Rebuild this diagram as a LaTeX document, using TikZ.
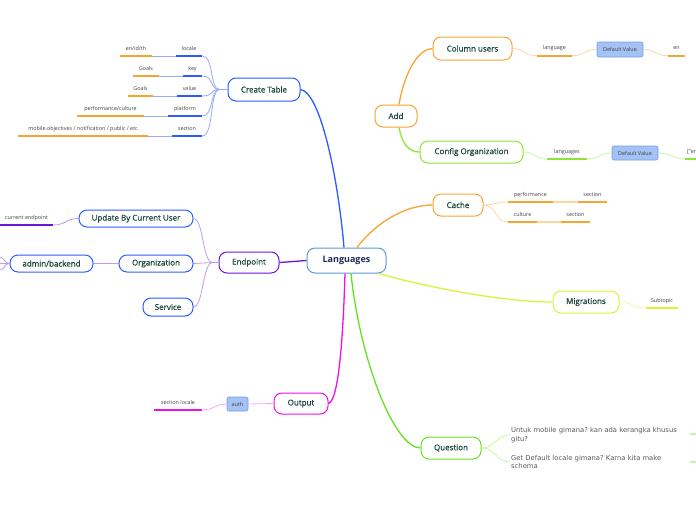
\documentclass[tikz,border=0pt]{standalone}
\usepackage{fontspec}
\setmainfont{Open Sans}
\newfontfamily\topicfam[FakeBold=0.5]{Open Sans}
\newfontfamily\notefont{DejaVu Sans}
\usepackage{tikz}
\frenchspacing
\definecolor{ct-blue}{HTML}{2B5CFF}
\definecolor{ct-light}{HTML}{93AAFF}
\definecolor{ep-purple}{HTML}{6E14DA}
\definecolor{ep-light}{HTML}{BC9AF3}
\definecolor{out-mag}{HTML}{EE11EE}
\definecolor{out-light}{HTML}{F6A6F6}
\definecolor{add-orange}{HTML}{F7A531}
\definecolor{add-light}{HTML}{FCD7A2}
\definecolor{cfg-green}{HTML}{8DE43A}
\definecolor{cfg-light}{HTML}{C9F4A4}
\definecolor{q-green}{HTML}{66E022}
\definecolor{mig-yellow}{HTML}{D6F53A}
\definecolor{mig-light}{HTML}{ECFAA8}
\definecolor{root-blue}{HTML}{5B9BD5}
\definecolor{root-text}{HTML}{1C2B55}
\definecolor{topic-text}{HTML}{1B463A}
\definecolor{leaf-text}{HTML}{404040}
\definecolor{note-text}{HTML}{5A5A5A}
\definecolor{val-fill}{HTML}{A4C2F4}
\definecolor{val-draw}{HTML}{6D9EEB}
\newcommand*\topicfont{\topicfam\fontsize{8}{9.5}\selectfont}
\newcommand*\leaffont{\fontsize{5.4}{6.5}\selectfont}
\newcommand*\ulbar[2]{\draw[bar=#1] (#2.south west) -- (#2.south east);}
\begin{document}
\begin{tikzpicture}[x=1pt,y=-1pt,
		topic/.style={draw=#1,line width=1pt,rounded corners=8pt,fill=white,inner sep=0pt,text=topic-text,font=\topicfont},
		leaf/.style={inner sep=0pt,anchor=south,minimum height=14pt,text=leaf-text,font=\leaffont},
		valbox/.style={draw=val-draw,fill=val-fill,rounded corners=2pt,inner sep=0pt,line width=0.6pt,text=leaf-text,font=\leaffont},
		note/.style={anchor=west,align=left,inner sep=1pt,text=note-text,font=\notefont\fontsize{6.8}{8.8}\selectfont},
		bar/.style={line width=1.6pt,#1},
		link/.style={line width=0.8pt,#1},
		branch/.style={line width=1.3pt,#1}]
	\useasboundingbox (0,0) rectangle (696,520);
	\node[topic=root-blue,minimum width=79pt,minimum height=25pt,text=root-text,font=\fontsize{9}{11}\selectfont\bfseries] (lang) at (346.5,260.5) {Languages};
	\node[topic=ct-blue,minimum width=72pt,minimum height=23pt] (ct) at (264,89.5) {Create Table};
	\node[leaf,minimum width=26pt] (ct-locale) at (189,56) {locale};
	\node[leaf,minimum width=32pt] (ct-locale-v) at (136,56) {en/id/th};
	\node[leaf,minimum width=19pt] (ct-key) at (192.5,76) {key};
	\node[leaf,minimum width=26pt] (ct-key-v) at (146,76) {Goals};
	\node[leaf,minimum width=25pt] (ct-value) at (189.5,96) {value};
	\node[leaf,minimum width=25pt] (ct-value-v) at (140.5,96) {Goals};
	\node[leaf,minimum width=34pt] (ct-platform) at (185,116) {platform};
	\node[leaf,minimum width=67pt] (ct-platform-v) at (110.5,116) {performance/culture};
	\node[leaf,minimum width=30pt] (ct-section) at (187,136) {section};
	\node[leaf,minimum width=130pt] (ct-section-v) at (83,136) {mobile.objectives / notification / public / etc};
	\foreach \k in {locale,key,value,platform,section}{
		\draw[link=ct-light] (ct.west) -- +(-8,0) .. controls +(-10,0) and +(12,0) .. (ct-\k.south east);
		\draw[link=ct-light] (ct-\k-v.south east) -- (ct-\k.south west);
		\ulbar{ct-blue}{ct-\k}
		\ulbar{add-orange}{ct-\k-v}
	}
	\node[topic=ep-purple,minimum width=60pt,minimum height=21pt] (ep) at (249,262.5) {Endpoint};
	\node[topic=ct-blue,minimum width=114pt,minimum height=17pt] (ep-user) at (136,218.5) {Update By Current User};
	\node[topic=ct-blue,minimum width=74pt,minimum height=17pt] (ep-org) at (156,263.5) {Organization};
	\node[topic=ct-blue,minimum width=83pt,minimum height=17pt] (ep-admin) at (51.5,263.5) {admin/backend};
	\node[topic=ct-blue,minimum width=50pt,minimum height=18pt] (ep-service) at (168,307) {Service};
	\node[leaf,minimum width=53pt] (ep-current) at (26.5,225) {current endpoint};
	\coordinate (ep-admin-a) at (0,257.5);
	\coordinate (ep-admin-b) at (0,263.5);
	\coordinate (ep-admin-c) at (0,269.5);
	\foreach \k in {user,org,service}
		\draw[link=ep-light] (ep.west) -- +(-6,0) .. controls +(-10,0) and +(10,0) .. (ep-\k.east);
	\draw[link=ep-light] (ep-current.south east) .. controls +(13,0) and +(-13,0) .. (ep-user.west);
	\draw[link=ep-light] (ep-org.west) -- (ep-admin.east);
	\foreach \k in {a,b,c}
		\draw[link=ep-light] (ep-admin.west) .. controls +(-5,0) and +(5,0) .. (ep-admin-\k);
	\ulbar{ep-purple}{ep-current}
	\node[topic=out-mag,minimum width=54pt,minimum height=21pt] (out) at (301,403.5) {Output};
	\node[valbox,minimum width=21pt,minimum height=14pt] (out-auth) at (237.5,404) {auth};
	\node[leaf,minimum width=48pt] (out-locale) at (178,410) {section locale};
	\draw[link=out-light] (out.west) -- (out-auth.east);
	\draw[link=out-light] (out-locale.south east) .. controls +(13,0) and +(-13,0) .. (out-auth.west);
	\ulbar{out-mag}{out-locale}
	\node[topic=add-orange,minimum width=42pt,minimum height=22pt] (add) at (396,116) {Add};
	\node[topic=add-orange,minimum width=79pt,minimum height=23pt] (add-col) at (472.5,48.5) {Column users};
	\node[leaf,minimum width=35pt] (add-col-lang) at (554.5,55.7) {language};
	\node[valbox,minimum width=46pt,minimum height=15pt] (add-col-def) at (620,49.5) {Default Value};
	\node[leaf,minimum width=17pt] (add-col-en) at (676.5,55.7) {en};
	\node[topic=cfg-green,minimum width=103pt,minimum height=22pt] (add-cfg) at (471.5,152) {Config Organization};
	\node[leaf,minimum width=40pt] (add-cfg-lang) at (567,159) {languages};
	\node[valbox,minimum width=46pt,minimum height=14pt] (add-cfg-def) at (635,153) {Default Value};
	\node[leaf,minimum width=18pt] (add-cfg-en) at (694,159) {["en"]};
	\draw[branch=add-orange] ([xshift=3pt]add.north) .. controls +(6,-35) and +(-13,0) .. (add-col.west);
	\draw[branch=cfg-green] ([xshift=3pt]add.south) .. controls +(3,15) and +(-12,0) .. (add-cfg.west);
	\draw[link=add-light] (add-col.east) .. controls +(13,0) and +(-13,0) .. (add-col-lang.south west);
	\draw[link=add-light] (add-col-lang.south east) .. controls +(13,0) and +(-13,0) .. (add-col-def.west);
	\draw[link=add-light] (add-col-def.east) .. controls +(13,0) and +(-13,0) .. (add-col-en.south west);
	\draw[link=cfg-light] (add-cfg.east) .. controls +(13,0) and +(-13,0) .. (add-cfg-lang.south west);
	\draw[link=cfg-light] (add-cfg-lang.south east) .. controls +(13,0) and +(-13,0) .. (add-cfg-def.west);
	\draw[link=cfg-light] (add-cfg-def.east) .. controls +(13,0) and +(-13,0) .. (add-cfg-en.south west);
	\ulbar{add-orange}{add-col-lang}
	\ulbar{add-orange}{add-col-en}
	\ulbar{cfg-green}{add-cfg-lang}
	\ulbar{cfg-green}{add-cfg-en}
	\node[topic=add-orange,minimum width=50pt,minimum height=22pt] (cache) at (458,205) {Cache};
	\node[leaf,minimum width=45pt] (cache-perf) at (530.5,202) {performance};
	\node[leaf,minimum width=29pt] (cache-perf-s) at (592.5,202) {section};
	\node[leaf,minimum width=29pt] (cache-cult) at (522.5,222) {culture};
	\node[leaf,minimum width=29pt] (cache-cult-s) at (575.5,222) {section};
	\foreach \k in {perf,cult}{
		\draw[link=add-light] (cache.east) .. controls +(13,0) and +(-13,0) .. (cache-\k.south west);
		\draw[bar=add-light] (cache-\k.south east) -- (cache-\k-s.south west);
		\ulbar{add-orange}{cache-\k}
		\ulbar{add-orange}{cache-\k-s}
	}
	\node[topic=mig-yellow,minimum width=66pt,minimum height=22pt] (mig) at (586,302) {Migrations};
	\node[leaf,minimum width=32pt] (mig-sub) at (662,308) {Subtopic};
	\draw[link=mig-light] (mig.east) .. controls +(14,0) and +(-14,0) .. (mig-sub.south west);
	\ulbar{mig-yellow}{mig-sub}
	\node[topic=q-green,minimum width=60pt,minimum height=22pt] (q) at (451,448) {Question};
	\node[note] (q-mobile) at (510,434.8) {Untuk mobile gimana? kan ada kerangka khusus\\gitu?};
	\node[note] (q-locale) at (510,462) {Get Default locale gimana? Karna kita make\\schema};
	\coordinate (q-mobile-in) at (690,434);
	\coordinate (q-mobile-out) at (696,434);
	\coordinate (q-locale-in) at (690,461.7);
	\coordinate (q-locale-out) at (696,461.7);
	\draw[link=cfg-light] (q.east) .. controls +(14,0) and +(-14,0) .. (q-mobile.west);
	\draw[link=cfg-light] (q.east) .. controls +(14,0) and +(-14,0) .. (q-locale.west);
	\draw[bar=cfg-light] (q-mobile-in) -- (q-mobile-out);
	\draw[bar=cfg-light] (q-locale-in) -- (q-locale-out);
	\draw[branch=ct-blue] ([xshift=-2.5pt]lang.north) .. controls +(-6,-70) and +(20,3) .. (ct.east);
	\draw[branch=add-orange] ([xshift=10.5pt]lang.north) .. controls +(18,-24) and +(-28,0) .. (cache.west);
	\draw[branch=ep-purple] (lang.west) -- (ep.east);
	\draw[branch=mig-yellow] ([xshift=-8pt]lang.south east) .. controls +(42,12) and +(-53,0) .. (mig.west);
	\draw[branch=out-mag] ([xshift=-1.5pt]lang.south) .. controls +(-2,67) and +(10,-3) .. (out.east);
	\draw[branch=q-green] ([xshift=4.5pt]lang.south) .. controls +(9,87) and +(-26,0) .. (q.west);
\end{tikzpicture}
\end{document}
